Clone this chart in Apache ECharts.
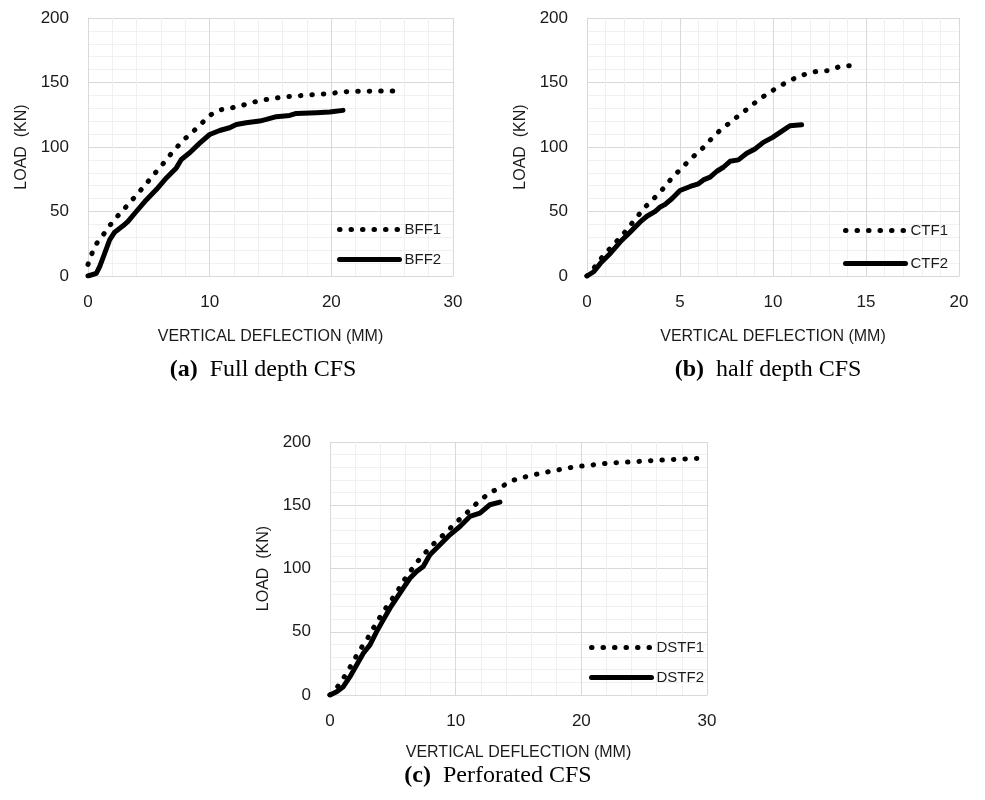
<!DOCTYPE html>
<html>
<head>
<meta charset="utf-8">
<script src="https://cdn.jsdelivr.net/npm/echarts@6/dist/echarts.min.js"></script>
<style>
  html, body { margin: 0; padding: 0; background: #fff; }
  #chart { width: 985px; height: 800px; }
</style>
</head>
<body>
<div id="chart"></div>
<script>
// ---- Data (x = vertical deflection mm, y = load kN) ----
const BFF1 = [[0,9],[0.33,17.6],[0.77,26.2],[1.29,32.4],[1.84,39.7],[2.41,46.2],[3.04,52.7],[3.7,59.7],[4.25,65.6],[4.88,72.6],[5.48,79.4],[6.08,85.9],[6.66,92.9],[7.26,99.4],[7.89,105.8],[8.58,111.5],[9.26,117.5],[9.92,124],[10.68,128.5],[11.64,130],[12.52,131.8],[13.42,134.4],[14.38,136.4],[15.26,137.7],[16.25,139],[17.2,139.6],[18.08,140.3],[19.04,140.9],[20,141.6],[20.96,142.7],[21.86,143.2],[22.82,143.2],[23.75,143.5],[24.74,143.5],[25.75,143.5]];
const BFF2 = [[0,0],[0.68,2],[0.96,7.3],[1.37,17.6],[1.78,28],[2.19,34],[2.88,38.9],[3.29,42.3],[3.97,50],[4.79,59],[5.62,67],[6.44,76],[7.26,83.8],[7.67,90.3],[8.36,95.5],[9.18,103],[10,109.7],[10.82,112.8],[11.64,114.9],[12.19,117.5],[13,118.8],[14.1,120.1],[14.66,121.4],[15.48,123.5],[16.58,124.5],[17.12,126],[18.77,126.6],[19.86,127.1],[20.96,128.4]];
const CTF1 = [[0,0],[0.36,5.9],[0.72,12.9],[1.16,20.1],[1.57,26.5],[1.97,32.9],[2.33,39.3],[2.72,46.3],[3.13,53.5],[3.52,59.1],[3.94,65],[4.33,72],[4.74,78.7],[5.15,84.3],[5.55,90.7],[5.99,95.9],[6.44,102.3],[6.83,108.7],[7.3,114.7],[7.78,119.8],[8.23,125.4],[8.73,130.6],[9.18,136.2],[9.66,140.9],[10.16,145.5],[10.7,149.9],[11.23,153.7],[11.81,156.8],[12.43,158.9],[13.02,159.2],[13.6,162.5],[14.22,163.2]];
const CTF2 = [[0,0],[0.36,3.3],[0.72,9.8],[1.25,17.5],[1.79,26.5],[2.33,34.2],[2.86,41.9],[3.22,46.3],[3.67,50.1],[3.94,53.5],[4.2,55.5],[4.56,59.9],[5,66.3],[5.55,69.4],[5.99,71.5],[6.26,74.5],[6.62,76.6],[6.98,81.2],[7.33,84.3],[7.69,88.9],[8.14,90],[8.59,95.1],[9.03,98.5],[9.48,103.6],[9.98,107.5],[10.38,111.3],[10.91,116.5],[11.54,117.2]];
const DSTF1 = [[0,0],[0.61,6.6],[1.11,14],[1.59,21.9],[2.04,29.8],[2.52,37.7],[3,44.9],[3.45,52.8],[3.92,60.7],[4.43,68.6],[4.9,75.2],[5.43,83.1],[5.91,91],[6.44,98.4],[6.97,105.5],[7.55,112.1],[8.16,118.7],[8.83,124.8],[9.49,131.1],[10.12,137.2],[10.79,143],[11.45,149.6],[12.11,155.1],[12.78,160.4],[13.52,163.6],[14.31,168.9],[15.16,171.5],[15.98,173.6],[16.91,175.5],[17.76,177.3],[18.68,178.9],[19.61,180.7],[20.54,181.3],[21.42,182.6],[22.34,183.4],[23.27,183.9],[24.2,184.4],[25.05,185],[25.97,185.5],[26.9,186],[27.83,186.5],[28.76,186.8],[29.68,187.1]];
const DSTF2 = [[0,0],[0.53,2.6],[1.06,6.6],[1.59,14.5],[2.12,23.7],[2.65,33],[3.18,39.6],[3.71,50.1],[4.24,59.4],[4.77,68.6],[5.3,76.5],[5.83,84.4],[6.36,92.3],[6.89,97.6],[7.42,101.6],[7.95,110.8],[8.75,118.7],[9.54,126.6],[10.34,133.2],[11.13,141.2],[11.93,143.8],[12.72,150.4],[13.52,152.5]];

const SERIES_NAMES = [['BFF1','BFF2'],['CTF1','CTF2'],['DSTF1','DSTF2']];
const SERIES_DATA = [[BFF1,BFF2],[CTF1,CTF2],[DSTF1,DSTF2]];
const X_MAX = [30, 20, 30];
const X_INTERVAL = [10, 5, 10];
const Y_MAX = 200, Y_INTERVAL = 50;
const X_TITLE = 'VERTICAL DEFLECTION (MM)';
const Y_TITLE = 'LOAD  (KN)';
const CAPTION_TAG = ['(a)','(b)','(c)'];
const CAPTION_TEXT = ['Full depth CFS','half depth CFS','Perforated CFS'];

// ---- Layout ----
const GRIDS = [
  {left: 88, top: 18, width: 365, height: 258},
  {left: 587, top: 18, width: 372, height: 258},
  {left: 330, top: 442, width: 377, height: 253}
];
const X_NAME_GAP = [53, 53, 50];
const LEGEND_POS = [{left: 337, top: 222}, {left: 843, top: 223}, {left: 589, top: 640}];
const LEGEND_GAP = [15, 18, 15];
const CAPTION_POS = [{x: 263, y: 358}, {x: 768, y: 358}, {x: 498, y: 764}];

const sans = 'Liberation Sans';
const serif = 'Liberation Serif';
const txt = '#1a1a1a';

const option = {
  animation: false,
  backgroundColor: '#fff',
  grid: GRIDS.map(g => Object.assign({containLabel: false}, g)),
  xAxis: GRIDS.map((g, i) => ({
    type: 'value', gridIndex: i, min: 0, max: X_MAX[i], interval: X_INTERVAL[i],
    name: X_TITLE, nameLocation: 'middle', nameGap: X_NAME_GAP[i],
    nameTextStyle: {fontFamily: sans, fontSize: 16, color: txt},
    axisLine: {show: true, lineStyle: {color: '#d9d9d9', width: 1}},
    axisTick: {show: false},
    axisLabel: {fontFamily: sans, fontSize: 17, color: txt, margin: 18},
    splitLine: {show: true, lineStyle: {color: '#d9d9d9', width: 1}},
    minorTick: {show: false, splitNumber: 5},
    minorSplitLine: {show: true, lineStyle: {color: '#f0f0f0', width: 1}}
  })),
  yAxis: GRIDS.map((g, i) => ({
    type: 'value', gridIndex: i, min: 0, max: Y_MAX, interval: Y_INTERVAL,
    name: Y_TITLE, nameLocation: 'middle', nameGap: 58, nameRotate: 90,
    nameTextStyle: {fontFamily: sans, fontSize: 16, color: txt},
    axisLine: {show: true, lineStyle: {color: '#d9d9d9', width: 1}},
    axisTick: {show: false},
    axisLabel: {fontFamily: sans, fontSize: 17, color: txt, margin: 19},
    splitLine: {show: true, lineStyle: {color: '#d9d9d9', width: 1}},
    minorTick: {show: false, splitNumber: 5},
    minorSplitLine: {show: true, lineStyle: {color: '#f0f0f0', width: 1}}
  })),
  legend: LEGEND_POS.map((p, i) => ({
    data: SERIES_NAMES[i], left: p.left, top: p.top, orient: 'vertical', padding: 0,
    itemWidth: 60, itemHeight: 18, itemGap: LEGEND_GAP[i], selectedMode: false,
    itemStyle: {color: 'rgba(0,0,0,0)', borderWidth: 0, opacity: 0},
    lineStyle: {width: 5, cap: 'round'},
    textStyle: {fontFamily: sans, fontSize: 15, color: txt}
  })),
  title: CAPTION_POS.map((p, i) => ({
    text: '{b|' + CAPTION_TAG[i] + '}{n|  ' + CAPTION_TEXT[i] + '}',
    left: p.x, top: p.y, textAlign: 'center', padding: 0,
    textStyle: {
      fontWeight: 'normal',
      rich: {
        b: {fontFamily: serif, fontSize: 24, fontWeight: 'bold', color: '#000'},
        n: {fontFamily: serif, fontSize: 24, fontWeight: 'normal', color: '#000'}
      }
    }
  })),
  series: []
};

SERIES_DATA.forEach((pair, i) => {
  option.series.push({
    name: SERIES_NAMES[i][0], type: 'line', xAxisIndex: i, yAxisIndex: i,
    data: pair[0], symbol: 'none', showSymbol: false,
    lineStyle: {color: '#000', width: 5, type: [0.5, 11], cap: 'round'},
    itemStyle: {color: '#000'}
  });
  option.series.push({
    name: SERIES_NAMES[i][1], type: 'line', xAxisIndex: i, yAxisIndex: i,
    data: pair[1], symbol: 'none', showSymbol: false,
    lineStyle: {color: '#000', width: 5, cap: 'round', join: 'round'},
    itemStyle: {color: '#000'}
  });
});

const chart = echarts.init(document.getElementById('chart'), null, {renderer: 'canvas'});
chart.setOption(option);
</script>
</body>
</html>
